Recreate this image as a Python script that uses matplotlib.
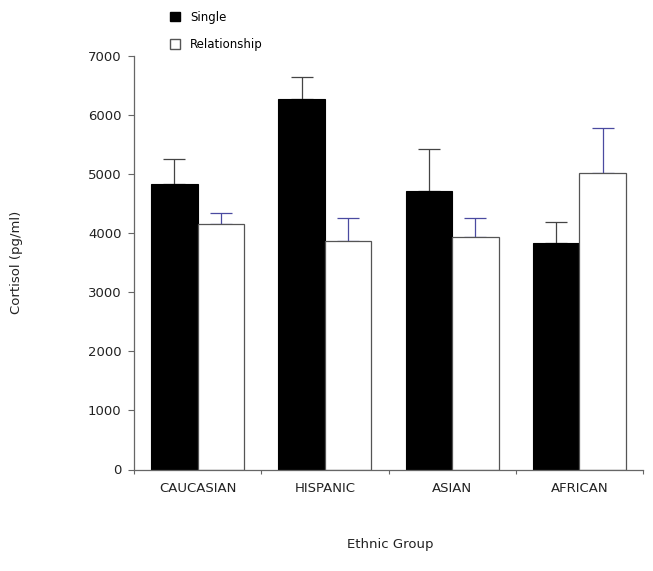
import matplotlib
matplotlib.use("Agg")
import matplotlib.pyplot as plt
import numpy as np
from matplotlib.patches import Patch

categories = ["CAUCASIAN", "HISPANIC", "ASIAN", "AFRICAN"]
single = [4835, 6270, 4720, 3830]
single_err = [430, 385, 710, 355]
relationship = [4150, 3870, 3935, 5015]
relationship_err = [190, 385, 320, 770]
yticks = [0, 1000, 2000, 3000, 4000, 5000, 6000, 7000]

plt.rcParams['font.family'] = ['DejaVu Sans']

fig = plt.figure(figsize=(6.53, 5.71), dpi=100)
ax = fig.add_axes([134/653, 1-469.5/571, 509/653, 413.3/571])

x = np.arange(len(categories))
w = 0.365
spine_col = '#666666'

ax.bar(x - w/2, single, w, color='black', edgecolor='black', linewidth=0.8, zorder=2)
ax.bar(x + w/2, relationship, w, color='white', edgecolor='#555555', linewidth=0.9, zorder=2)
ax.errorbar(x - w/2, single, yerr=[np.zeros(4), single_err], fmt='none',
            ecolor='#444444', elinewidth=0.9, capsize=8, capthick=0.9, zorder=1)
ax.errorbar(x + w/2, relationship, yerr=[np.zeros(4), relationship_err], fmt='none',
            ecolor='#4a4aa0', elinewidth=0.9, capsize=8, capthick=0.9, zorder=1)

ax.set_xlim(-0.5, 3.5)
ax.set_ylim(0, 7000)
ax.set_yticks(yticks)
ax.set_yticklabels([str(v) for v in yticks])
ax.set_xticks(x)
ax.set_xticklabels(categories)
ax.set_xticks(np.arange(-0.5, 4.0, 1.0), minor=True)
ax.tick_params(axis='x', which='major', length=0, pad=9, labelsize=9.5, colors='#222222')
ax.tick_params(axis='x', which='minor', length=3, direction='out', color=spine_col, width=0.8)
ax.tick_params(axis='y', which='major', length=4, direction='out', color=spine_col, width=0.8,
               pad=5, labelsize=9.5, labelcolor='#222222')

for s in ['top', 'right']:
    ax.spines[s].set_visible(False)
for s in ['left', 'bottom']:
    ax.spines[s].set_color(spine_col)
    ax.spines[s].set_linewidth(0.9)

ax.set_xlabel("Ethnic Group", fontsize=9.5, color='#222222')
ax.xaxis.set_label_coords(0.503, -0.166)
ax.set_ylabel("Cortisol (pg/ml)", fontsize=9.5, color='#222222')
ax.yaxis.set_label_coords(-0.218, 0.50)

handles = [Patch(facecolor='black', edgecolor='black'),
           Patch(facecolor='white', edgecolor='#555555', linewidth=1.0)]
fig.legend(handles, ["Single", "Relationship"], loc='upper left',
           bbox_to_anchor=(159/653, 1.0), frameon=False, fontsize=8.5,
           handlelength=0.9, handleheight=0.9, labelspacing=1.25, handletextpad=0.85)

fig.savefig("out.png", dpi=100, facecolor='white')
